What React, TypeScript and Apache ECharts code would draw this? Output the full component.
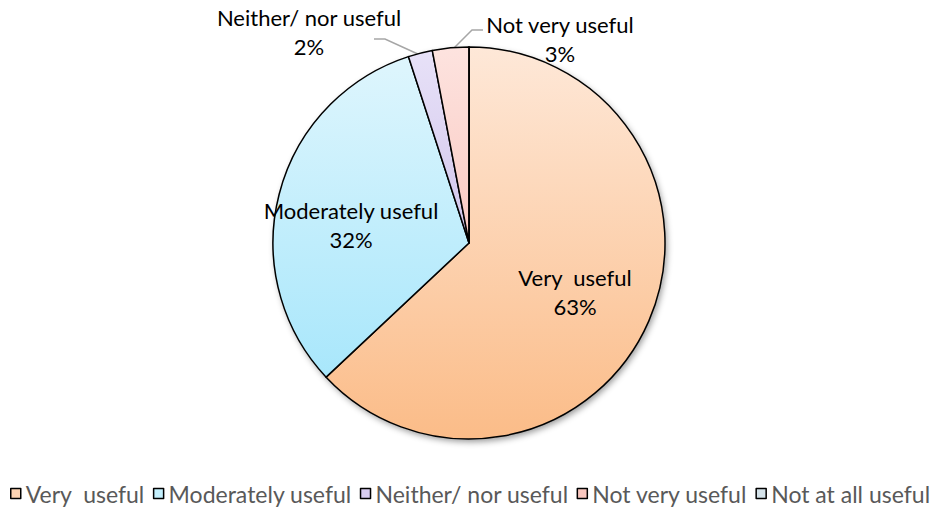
import React, { useEffect, useRef } from "react";
import * as echarts from "echarts";

const categories = ["Very  useful", "Moderately useful", "Neither/ nor useful", "Not very useful", "Not at all useful"];
const shares = [63, 32, 2, 3, 0];
const topColors = ["#fee8d8", "#e0f6fd", "#e8e2f8", "#fde3df", "#dde9f0"];
const bottomColors = ["#fbbc88", "#9ee4fb", "#b9a8e0", "#f7b0a5", "#a9c6d8"];
const legendColors = ["#fcd3b3", "#c4f0fd", "#d8cdf0", "#fac7bf", "#d5e3ea"];

const CX = 469;
const CY = 243;
const R = 196;
const labelSpots: Record<number, { x: number; y: number; line?: number[][] }> = {
  0: { x: 575, y: 292 },
  1: { x: 351, y: 225 },
  2: { x: 309, y: 32, line: [[420, 55], [385, 39], [374, 39]] },
  3: { x: 560, y: 39, line: [[450, 52], [472, 30], [483, 30]] },
};

export default function App() {
  const ref = useRef<HTMLDivElement>(null);
  useEffect(() => {
    document.body.style.margin = "0";
    if (!ref.current) return;
    const chart = echarts.init(ref.current, undefined, { renderer: "svg" });
    const font = "Lato, 'Open Sans', sans-serif";
    const data = categories.map((name, i) => {
      const outside = i === 2 || i === 3;
      return {
        name,
        value: shares[i],
        itemStyle: {
          color: {
            type: "linear",
            x: 0,
            y: CY - R,
            x2: 0,
            y2: CY + R,
            global: true,
            colorStops: [
              { offset: 0, color: topColors[i] },
              { offset: 1, color: bottomColors[i] },
            ],
          },
        },
        label: {
          show: shares[i] > 0,
          position: outside ? "outside" : "inside",
        },
        labelLine: { show: outside },
      };
    });
    chart.setOption({
      animation: false,
      legend: {
        data: categories.map((name, i) => ({ name, itemStyle: { color: legendColors[i], borderColor: "#000", borderWidth: 1.5 } })),
        left: 10,
        top: 482,
        padding: 0,
        icon: "rect",
        itemWidth: 10,
        itemHeight: 10,
        itemGap: 8,
        textStyle: { fontFamily: font, fontSize: 23, lineHeight: 20, color: "#595959" },
        selectedMode: false,
      },
      series: [
        {
          type: "pie",
          silent: true,
          z: 1,
          center: [CX, CY],
          radius: R,
          label: { show: false },
          labelLine: { show: false },
          itemStyle: {
            color: "#fff",
            shadowBlur: 6,
            shadowOffsetX: 2,
            shadowOffsetY: 3,
            shadowColor: "rgba(0,0,0,0.4)",
          },
          data: [{ name: "_shadow", value: 1 }],
        },
        {
          type: "pie",
          z: 2,
          center: [CX, CY],
          radius: R,
          startAngle: 90,
          clockwise: true,
          minAngle: 0,
          avoidLabelOverlap: false,
          itemStyle: { borderColor: "#000", borderWidth: 1.5 },
          label: {
            formatter: "{b}\n{c}%",
            fontFamily: font,
            fontSize: 22,
            lineHeight: 29,
            color: "#000",
            align: "center",
          },
          labelLine: { lineStyle: { color: "#a6a6a6", width: 1.5 }, length: 10, length2: 10 },
          labelLayout: (p: any) => {
            const s = labelSpots[p.dataIndex];
            if (!s) return {};
            const out: any = { x: s.x, y: s.y, align: "center", verticalAlign: "middle" };
            if (s.line) out.labelLinePoints = s.line;
            return out;
          },
          data,
        },
      ],
    });
    return () => chart.dispose();
  }, []);
  return <div ref={ref} style={{ width: 940, height: 508 }} />;
}
